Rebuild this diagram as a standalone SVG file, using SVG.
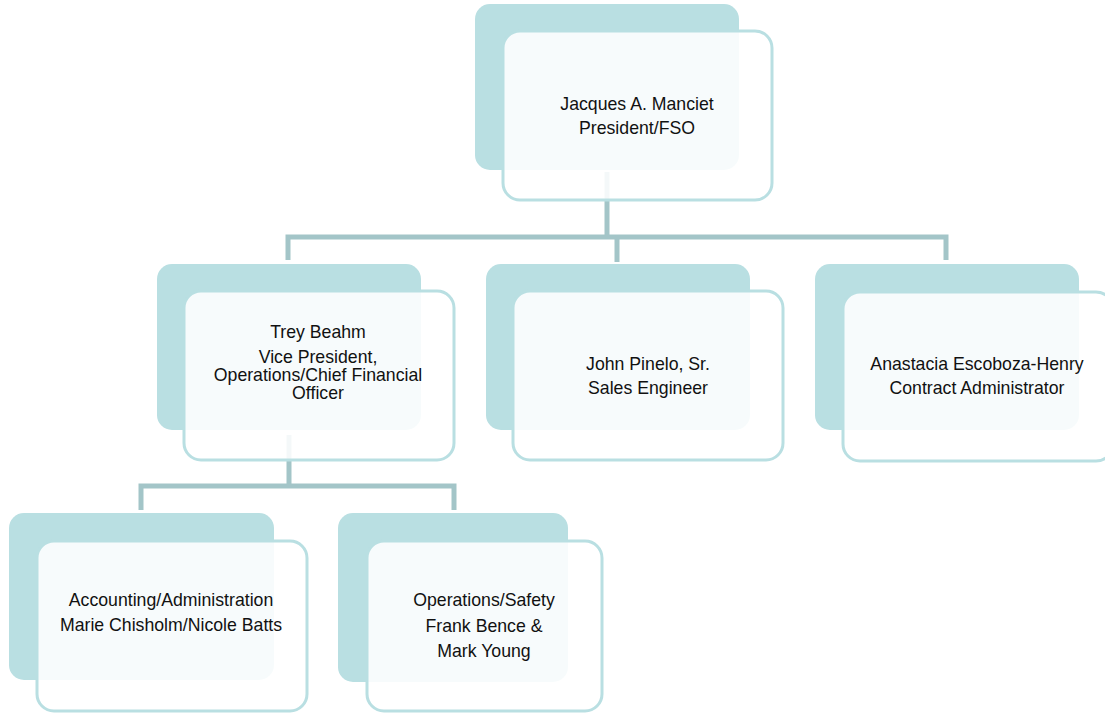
<svg xmlns="http://www.w3.org/2000/svg" width="1105" height="713" viewBox="0 0 1105 713">
<style>
.back{fill:#b9dfe2;}
.front{fill:#ffffff;fill-opacity:0.88;stroke:#b9dfe2;stroke-width:3;}
.conn{fill:none;stroke:#a3c5c8;stroke-width:5;}
text{font-family:"Liberation Sans",Arial,sans-serif;font-size:17.7px;fill:#111;text-anchor:middle;}
</style>
<rect width="1105" height="713" fill="#ffffff"/>
<g id="backs">
<rect class="back" x="475" y="4" width="264" height="166" rx="15"/>
<rect class="back" x="157" y="264" width="264" height="166" rx="15"/>
<rect class="back" x="486" y="264" width="264" height="166" rx="15"/>
<rect class="back" x="815" y="264" width="264" height="166" rx="15"/>
<rect class="back" x="9" y="513" width="265" height="167" rx="15"/>
<rect class="back" x="338" y="513" width="230" height="169" rx="15"/>
</g>
<g id="connectors">
<path class="conn" d="M607 172 V237 M288 260 V237 H946 V260 M617 237 V262"/>
<path class="conn" d="M289 435 V486 M141 510 V486 H454 V510"/>
</g>
<g id="node-manciet">
<rect class="front" x="503" y="31" width="269" height="169" rx="17"/>
<text x="637" y="110">Jacques A. Manciet</text>
<text x="637" y="134">President/FSO</text>
</g>
<g id="node-beahm">
<rect class="front" x="184" y="291" width="270" height="169" rx="17"/>
<text x="318" y="338">Trey Beahm</text>
<text x="318" y="363">Vice President,</text>
<text x="318" y="381">Operations/Chief Financial</text>
<text x="318" y="399">Officer</text>
</g>
<g id="node-pinelo">
<rect class="front" x="513" y="291" width="270" height="169" rx="17"/>
<text x="648" y="370">John Pinelo, Sr.</text>
<text x="648" y="394">Sales Engineer</text>
</g>
<g id="node-escoboza">
<rect class="front" x="843" y="292" width="270" height="169" rx="17"/>
<text x="977" y="370">Anastacia Escoboza-Henry</text>
<text x="977" y="394">Contract Administrator</text>
</g>
<g id="node-accounting">
<rect class="front" x="37" y="541" width="270" height="170" rx="17"/>
<text x="171" y="606">Accounting/Administration</text>
<text x="171" y="631">Marie Chisholm/Nicole Batts</text>
</g>
<g id="node-operations">
<rect class="front" x="367" y="541" width="235" height="170" rx="17"/>
<text x="484" y="606">Operations/Safety</text>
<text x="484" y="632">Frank Bence &amp;</text>
<text x="484" y="657">Mark Young</text>
</g>
</svg>
